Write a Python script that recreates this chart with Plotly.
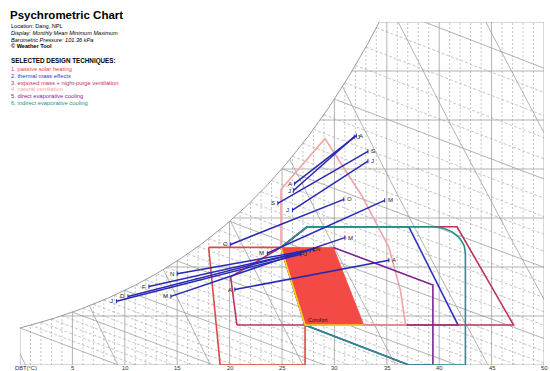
import numpy as np
import plotly.graph_objects as go

# ---------------- data ----------------
P_KPA = 101.36

months = ["J", "F", "M", "A", "M", "J", "J", "A", "S", "O", "N", "D"]
# monthly mean minimum / maximum: dry bulb (°C) and humidity ratio (g/kg)
t_min = [9.2, 12.3, 14.4, 20.5, 23.6, 26.0, 26.1, 26.2, 24.6, 20.1, 15.0, 10.3]
w_min = [6.5, 8.0, 7.0, 7.7, 11.4, 15.8, 17.8, 18.5, 16.5, 12.3, 9.3, 7.0]
t_max = [26.8, 27.7, 31.0, 35.2, 34.8, 33.2, 31.9, 32.1, 33.2, 30.9, 28.0, 26.4]
w_max = [11.3, 11.7, 13.0, 10.7, 16.8, 20.8, 23.3, 23.4, 21.8, 16.9, 11.8, 11.4]

# design technique zones (dry bulb °C, humidity ratio g/kg)
comfort_t = [24.9, 29.9, 32.8, 27.2]
comfort_w = [12.0, 12.0, 4.08, 4.08]

solar_t = [18.0, 24.9, 27.2, 27.2, 19.1, 18.0]
solar_w = [12.0, 12.0, 4.08, 0.0, 0.0, 12.0]

mass_t = [24.9, 27.4, 37.1, 41.8, 27.2, 24.9]
mass_w = [12.0, 14.1, 14.1, 4.08, 4.08, 12.0]

purge_t = [20.7, 20.1, 24.9, 27.4, 41.7, 47.1, 20.7]
purge_w = [4.08, 9.0, 12.0, 14.1, 14.1, 4.08, 4.08]

natvent_t = [24.9, 24.9, 29.1, 32.6, 35.2, 36.3, 36.8, 27.2, 24.9]
natvent_w = [12.0, 17.9, 23.1, 17.3, 12.0, 7.6, 4.08, 4.08, 12.0]

direct_t = [29.9, 39.4, 39.4, 37.1, 27.2, 29.9]
direct_w = [12.0, 8.16, 0.0, 0.0, 4.08, 12.0]

indirect_t = [24.9, 27.4, 39.4, 42.5, 42.5, 37.1, 27.2, 24.9]
indirect_w = [12.0, 14.1, 14.1, 11.4, 0.0, 0.0, 4.08, 12.0]
indirect_corner = 3  # vertex index replaced by a rounded corner

techniques = [
    ("1. passive solar heating", "#e04848"),
    ("2. thermal mass effects", "#3434c4"),
    ("3. exposed mass + night-purge ventilation", "#c0305c"),
    ("4. natural ventilation", "#f2a4a8"),
    ("5. direct evaporative cooling", "#7e2490"),
    ("6. indirect evaporative cooling", "#22908e"),
]

x_ticks = [5, 10, 15, 20, 25, 30, 35, 40, 45, 50]
wb_levels = list(range(0, 36))
sv_levels = [0.775, 0.8, 0.825, 0.85, 0.875, 0.9, 0.925, 0.95, 0.975]

T_LO, T_HI, W_HI = 0.0, 50.0, 35.0


# ---------------- psychrometrics ----------------
def psat(t):
    return 0.61094 * np.exp(17.625 * t / (t + 243.04))


def w_rh(t, rh):
    pv = rh * psat(t)
    return 622.0 * pv / (P_KPA - pv)


def wsat(t):
    return w_rh(t, 1.0)


def enthalpy(t, w):
    return 1.006 * t + w / 1000.0 * (2501.0 + 1.86 * t)


def w_at_h(t, h):
    return 1000.0 * (h - 1.006 * t) / (2501.0 + 1.86 * t)


def w_at_v(t, v):
    return 1000.0 * (v * P_KPA / (0.287042 * (t + 273.15)) - 1.0) / 1.6078


def t_of_wsat(w):
    lo, hi = -20.0, 60.0
    for _ in range(60):
        mid = 0.5 * (lo + hi)
        if wsat(mid) < w:
            lo = mid
        else:
            hi = mid
    return 0.5 * (lo + hi)


def clip_curve(f, n=8001, keep=60):
    t = np.linspace(T_LO, T_HI, n)
    w = f(t)
    ok = (w >= 0) & (w <= np.minimum(wsat(t) + 1e-9, W_HI))
    idx = np.where(ok)[0]
    if len(idx) < 2:
        return None
    seg_t, seg_w = t[idx[0]:idx[-1] + 1], w[idx[0]:idx[-1] + 1]
    step = max(1, len(seg_t) // keep)
    sel = list(range(0, len(seg_t), step))
    if sel[-1] != len(seg_t) - 1:
        sel.append(len(seg_t) - 1)
    return seg_t[sel], seg_w[sel]


def join(segments):
    xs, ys = [], []
    for s in segments:
        if s is None:
            continue
        xs += list(s[0]) + [None]
        ys += list(s[1]) + [None]
    return xs, ys


fig = go.Figure()


def add_lines(segments, color, width, dash="solid"):
    xs, ys = join(segments)
    fig.add_trace(go.Scatter(x=xs, y=ys, mode="lines", hoverinfo="skip",
                             line=dict(color=color, width=width, dash=dash),
                             showlegend=False))


GRID_SOLID = "#a0a0a0"
GRID_DASH = "#b8b8b8"

# dotted 1 °C verticals
v_dot = []
for k in range(1, 50):
    if k % 5:
        v_dot.append(([k, k], [0, min(wsat(k), W_HI)]))
add_lines(v_dot, GRID_DASH, 0.8, "2px,2px")

# dashed wet-bulb lines every 1 °C
wb_dash = []
for tw in wb_levels:
    if tw % 5:
        h = enthalpy(tw, wsat(tw))
        wb_dash.append(clip_curve(lambda t, h=h: w_at_h(t, h)))
add_lines(wb_dash, GRID_DASH, 0.8, "3px,2px")

# solid grid: 5 °C verticals, 5 g/kg horizontals
solid = []
for k in range(0, 51, 5):
    solid.append(([k, k], [0, min(wsat(k), W_HI)]))
for k in range(0, 36, 5):
    t0 = max(t_of_wsat(k), 0.0) if k > 0 else 0.0
    solid.append(([t0, T_HI], [k, k]))
# wet-bulb lines every 5 °C
for tw in wb_levels:
    if tw % 5 == 0:
        h = enthalpy(tw, wsat(tw))
        solid.append(clip_curve(lambda t, h=h: w_at_h(t, h)))
# specific volume lines
for v in sv_levels:
    solid.append(clip_curve(lambda t, v=v: w_at_v(t, v)))
add_lines(solid, GRID_SOLID, 0.8)

# saturation curve
sat = clip_curve(wsat, keep=300)
add_lines([sat], "#9a9a9a", 1.0)


# ---------------- design technique zones ----------------
def zone(ts, ws, color, width=1.6):
    fig.add_trace(go.Scatter(x=ts, y=ws, mode="lines", hoverinfo="skip",
                             line=dict(color=color, width=width),
                             showlegend=False))


zone(solar_t, solar_w, techniques[0][1])
zone(mass_t, mass_w, techniques[1][1])
zone(purge_t, purge_w, techniques[2][1])
zone(natvent_t, natvent_w, techniques[3][1])
zone(direct_t, direct_w, techniques[4][1])

# indirect evaporative zone with a rounded upper-right corner
c = indirect_corner
t_prev, w_prev = indirect_t[c - 1], indirect_w[c - 1]
t_c, w_c = indirect_t[c], indirect_w[c]
th = np.linspace(0, np.pi / 2, 20)
arc_t = list(t_prev + (t_c - t_prev) * np.sin(th))
arc_w = list(w_c + (w_prev - w_c) * np.cos(th))
ind_t = indirect_t[:c - 1] + arc_t + indirect_t[c + 1:]
ind_w = indirect_w[:c - 1] + arc_w + indirect_w[c + 1:]
zone(ind_t, ind_w, techniques[5][1])

# comfort zone
fig.add_trace(go.Scatter(x=comfort_t + [comfort_t[0]], y=comfort_w + [comfort_w[0]],
                         mode="lines", fill="toself", fillcolor="#f44a46",
                         line=dict(color="#f44a46", width=0.8), hoverinfo="skip",
                         showlegend=False))
fig.add_trace(go.Scatter(x=[comfort_t[0], comfort_t[3], comfort_t[2]],
                         y=[comfort_w[0], comfort_w[3], comfort_w[2]],
                         mode="lines", line=dict(color="#ffd21e", width=1.6),
                         hoverinfo="skip", showlegend=False))

# ---------------- monthly min/max lines ----------------
mx, my = [], []
for i in range(12):
    mx += [t_min[i], t_max[i], None]
    my += [w_min[i], w_max[i], None]
fig.add_trace(go.Scatter(x=mx, y=my, mode="lines+markers", hoverinfo="skip",
                         line=dict(color="#2828b4", width=1.5),
                         marker=dict(color="#2828b4", size=3, symbol="line-ns-open",
                                     line=dict(width=1, color="#2828b4")),
                         showlegend=False))

ann = []
for i, m in enumerate(months):
    ann.append(dict(x=t_min[i], y=w_min[i], text=m, xref="x", yref="y",
                    xanchor="right", yanchor="middle", xshift=-1, showarrow=False,
                    font=dict(size=6, color="#202020")))
    ann.append(dict(x=t_max[i], y=w_max[i], text=m, xref="x", yref="y",
                    xanchor="left", yanchor="middle", xshift=1, showarrow=False,
                    font=dict(size=6, color="#202020")))

ann.append(dict(x=comfort_t[3], y=comfort_w[3], text="Comfort", xref="x", yref="y",
                xanchor="left", yanchor="bottom", xshift=1, yshift=0, showarrow=False,
                font=dict(size=5.5, color="#3a0a0a")))

# ---------------- page texts ----------------
L, R, T, B = 19.6, 6.4, 22.0, 6.0
PW, PH = 550 - L - R, 371 - T - B


def px(x):
    return (x - L) / PW


def py(y):
    return (371 - B - y) / PH


FONT = "Arial, Liberation Sans, sans-serif"

ann.append(dict(x=px(8), y=py(15), xref="paper", yref="paper", text="<b>Psychrometric Chart</b>",
                xanchor="left", yanchor="middle", showarrow=False,
                font=dict(size=11.5, color="#000000", family=FONT)))
info = ["Location: Dang, NPL",
        "<i>Display: Monthly Mean Minimum Maximum</i>",
        "<i>Barometric Pressure: 101.36 kPa</i>",
        "<b>© Weather Tool</b>"]
for k, s in enumerate(info):
    ann.append(dict(x=px(9), y=py(26 + 6.8 * k), xref="paper", yref="paper", text=s,
                    xanchor="left", yanchor="middle", showarrow=False,
                    font=dict(size=5.6, color="#000000", family=FONT)))
ann.append(dict(x=px(9), y=py(61), xref="paper", yref="paper",
                text="<b>SELECTED DESIGN TECHNIQUES:</b>",
                xanchor="left", yanchor="middle", showarrow=False,
                font=dict(size=6.3, color="#000000", family=FONT)))
for k, (s, col) in enumerate(techniques):
    ann.append(dict(x=px(9), y=py(69 + 6.8 * k), xref="paper", yref="paper", text=s,
                    xanchor="left", yanchor="middle", showarrow=False,
                    font=dict(size=5.8, color=col, family=FONT)))

# dry bulb axis labels
for v in x_ticks:
    ann.append(dict(x=v, y=py(368.5), xref="x", yref="paper", text=str(v),
                    xanchor="center", yanchor="middle", showarrow=False,
                    font=dict(size=5.8, color="#303030", family=FONT)))
ann.append(dict(x=px(13), y=py(368.5), xref="paper", yref="paper", text="DBT(°C)",
                xanchor="left", yanchor="middle", showarrow=False,
                font=dict(size=5.8, color="#303030", family=FONT)))

fig.update_layout(
    width=550, height=371,
    margin=dict(l=L, r=R, t=T, b=B, pad=0),
    paper_bgcolor="white", plot_bgcolor="white",
    xaxis=dict(range=[T_LO, T_HI], visible=False, fixedrange=True),
    yaxis=dict(range=[0, W_HI], visible=False, fixedrange=True),
    annotations=ann,
    font=dict(family=FONT),
    showlegend=False,
)

fig.write_html("out.html")
